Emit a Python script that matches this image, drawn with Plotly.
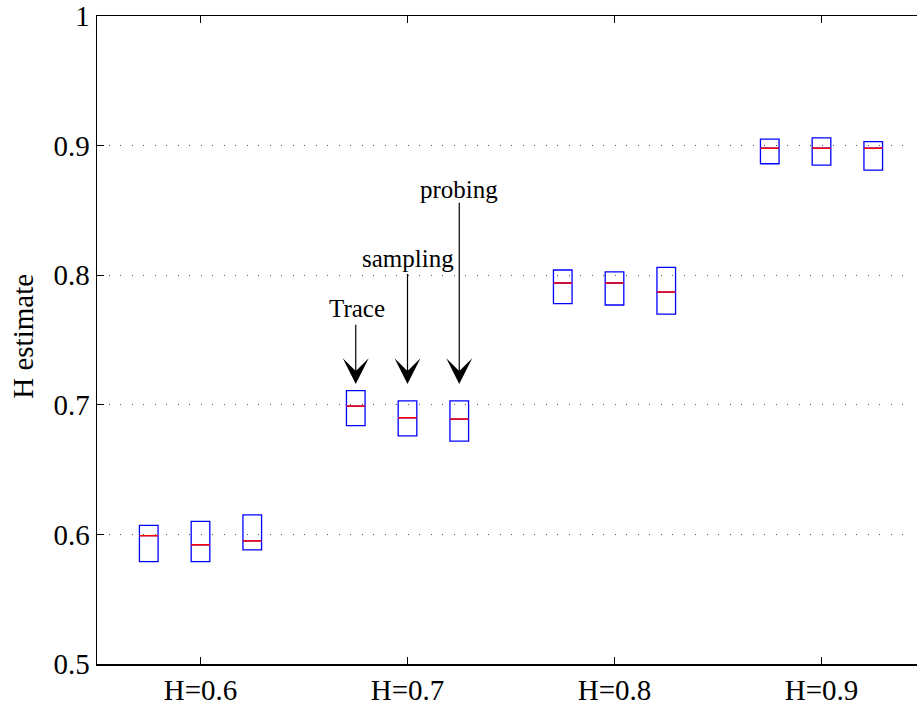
import plotly.graph_objects as go

# groups on the x axis
groups = ['H=0.6', 'H=0.7', 'H=0.8', 'H=0.9']
group_pos = [1, 2, 3, 4]

# three measurement methods per group
methods = ['Trace', 'sampling', 'probing']
offsets = [-0.25, 0.0, 0.25]

# box statistics (q1 / median / q3), one list per method
q1 = {
    'Trace':    [0.579, 0.684, 0.778, 0.886],
    'sampling': [0.579, 0.676, 0.777, 0.885],
    'probing':  [0.588, 0.672, 0.770, 0.881],
}
median = {
    'Trace':    [0.599, 0.699, 0.794, 0.898],
    'sampling': [0.592, 0.690, 0.794, 0.898],
    'probing':  [0.595, 0.689, 0.787, 0.898],
}
q3 = {
    'Trace':    [0.607, 0.711, 0.804, 0.905],
    'sampling': [0.610, 0.703, 0.8025, 0.906],
    'probing':  [0.615, 0.703, 0.806, 0.903],
}

# labelled arrows pointing at the H=0.7 boxes
label_y = [0.774, 0.813, 0.866]
tail_y = [0.763, 0.802, 0.857]
tip_y = 0.716

ytick_vals = [0.5, 0.6, 0.7, 0.8, 0.9, 1.0]
ytick_text = ['0.5', '0.6', '0.7', '0.8', '0.9', '1']

box_w = 0.09
serif = 'Liberation Serif, Times New Roman, serif'

fig = go.Figure()

for m, off in zip(methods, offsets):
    xs = [g + off for g in group_pos]
    fig.add_trace(go.Box(
        x=xs, q1=q1[m], median=median[m], q3=q3[m],
        lowerfence=q1[m], upperfence=q3[m],
        width=box_w, whiskerwidth=0.4,
        line=dict(color='#0000ff', width=1.3),
        fillcolor='rgba(0,0,0,0)',
        boxpoints=False, hoverinfo='skip', showlegend=False, name=m,
    ))
    # red median lines
    mx, my = [], []
    for x, md in zip(xs, median[m]):
        mx += [x - box_w / 2, x + box_w / 2, None]
        my += [md, md, None]
    fig.add_trace(go.Scatter(x=mx, y=my, mode='lines',
                             line=dict(color='#ff0000', width=1.5),
                             hoverinfo='skip', showlegend=False))

for m, off, ly, ty in zip(methods, offsets, label_y, tail_y):
    xa = group_pos[1] + off
    fig.add_annotation(x=xa + (0.005 if m == 'Trace' else 0), y=ly, text=m,
                       showarrow=False, font=dict(family=serif, size=25, color='black'))
    fig.add_annotation(x=xa, y=tip_y, ax=xa, ay=ty, axref='x', ayref='y',
                       text='', showarrow=True, arrowhead=3, arrowsize=3.6,
                       arrowwidth=1.2, arrowcolor='black')

# the plot area runs past the window's right edge, as in the original
fig_w = 925
plot_w = fig_w - 97

fig.add_annotation(x=(23 - 97) / plot_w, y=0.505, xref='paper', yref='paper',
                   xanchor='center', yanchor='middle', text='H estimate',
                   textangle=-90, showarrow=False,
                   font=dict(family=serif, size=29, color='black'))

# white strip hiding a stray edge line at the window's right border
fig.add_shape(type='rect', xref='paper', yref='paper',
              x0=(912 - 97) / plot_w, x1=1.0, y0=0.003, y1=0.997,
              fillcolor='white', line=dict(width=0), layer='above')

fig.update_xaxes(
    range=[0.5, 4.5],
    tickvals=group_pos, ticktext=groups,
    ticks='inside', ticklen=7, tickcolor='black', tickwidth=1,
    showline=True, linecolor='black', linewidth=1.5, mirror='ticks',
    showgrid=False, zeroline=False, showspikes=False,
    tickfont=dict(family=serif, size=29, color='black'),
)
fig.update_yaxes(
    range=[0.5, 1.0],
    tickvals=ytick_vals, ticktext=ytick_text,
    ticks='inside', ticklen=7, tickcolor='black', tickwidth=1,
    showline=True, linecolor='black', linewidth=1.5,
    showgrid=True, gridcolor='#555555', gridwidth=1, griddash='1px,10.5px',
    zeroline=False, ticklabeloverflow='allow', showspikes=False,
    tickfont=dict(family=serif, size=29, color='black'),
)

fig.update_layout(
    width=fig_w, height=706,
    margin=dict(l=97, r=0, t=12, b=41),
    paper_bgcolor='white', plot_bgcolor='white',
    boxmode='overlay', hovermode=False, dragmode=False, showlegend=False,
)

# drop the default page margin and scrollbars so the figure sits at the corner
fig.write_html(
    "out.html",
    config={'displayModeBar': False, 'staticPlot': True},
    post_script="document.body.style.margin='0';document.body.style.overflow='hidden';",
)
